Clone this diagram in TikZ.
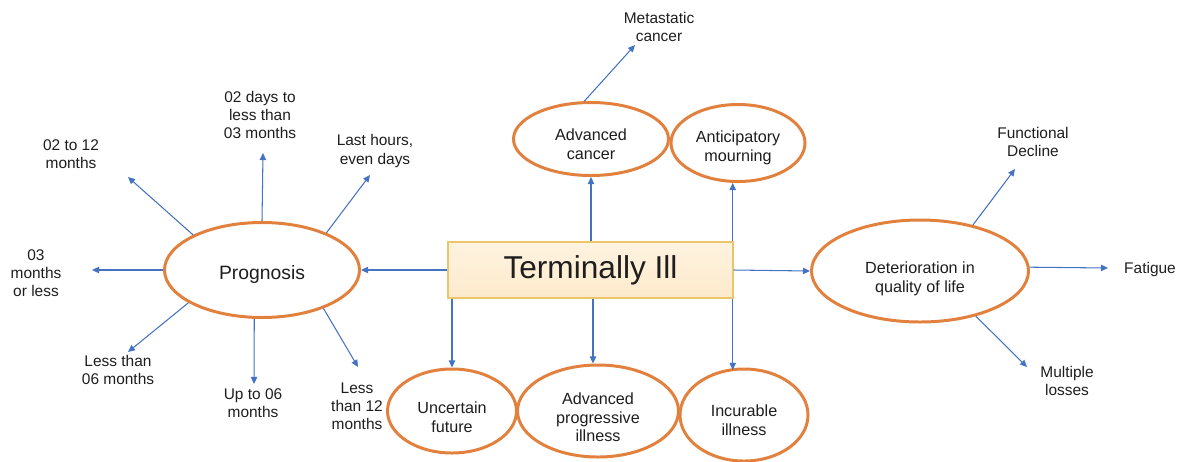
\documentclass[tikz,border=0pt]{standalone}
\usepackage{fontspec}
\setmainfont{Liberation Sans}
\usetikzlibrary{shapes.geometric,arrows.meta}
\definecolor{ored}{HTML}{E2813D}
\definecolor{ablue}{HTML}{4472C4}
\definecolor{boxfill}{HTML}{FDEACB}
\definecolor{boxtop}{HTML}{FEF3E0}
\definecolor{boxedge}{HTML}{EBC56A}
\definecolor{txt}{HTML}{1E1E1E}
\def\pxu{0.02cm}
\tikzset{
  oval/.style={ellipse,draw=ored,line width=1.7pt,fill=white,inner sep=0pt},
  ovtext/.style={align=center,text=txt,inner sep=0pt,font=\fontsize{9.2pt}{10.6pt}\selectfont},
  lbl/.style={align=center,text=txt,inner sep=0pt,font=\fontsize{8.8pt}{10.3pt}\selectfont},
  arr/.style={draw=ablue,line width=0.6pt,-{Triangle[length=4pt,width=3.6pt]}},
}
\begin{document}
\begin{tikzpicture}[x=0.02cm,y=-0.02cm]
\useasboundingbox (0,0) rectangle (1185,461);
% central box
\node[draw=boxedge,line width=0.8pt,top color=boxtop,bottom color=boxfill,
  minimum width={285*\pxu},minimum height={56*\pxu},inner sep=0pt,
  text=txt,font=\fontsize{18pt}{20pt}\selectfont] (box) at (590.5,270) {Terminally Ill};
% ellipses
\node[oval,minimum width={195*\pxu},minimum height={95*\pxu}] (prog) at (262,270) {};
\node[oval,minimum width={155*\pxu},minimum height={73*\pxu}] (adv) at (591,139) {};
\node[oval,minimum width={134*\pxu},minimum height={77*\pxu}] (antic) at (738,143) {};
\node[oval,minimum width={129*\pxu},minimum height={84*\pxu}] (unc) at (452,411) {};
\node[oval,minimum width={161*\pxu},minimum height={92*\pxu}] (advp) at (598,411) {};
\node[oval,minimum width={128*\pxu},minimum height={92*\pxu}] (inc) at (744,415) {};
\node[oval,minimum width={217*\pxu},minimum height={102*\pxu}] (det) at (920,271) {};
% ellipse texts
\node[ovtext,font=\fontsize{11pt}{13pt}\selectfont] (progt) at ([yshift=-0.08cm]prog.center) {Prognosis};
\node[ovtext] (advt) at ([yshift=-0.1cm]adv.center) {Advanced\\cancer};
\node[ovtext] (antict) at ([yshift=-0.1cm]antic.center) {Anticipatory\\mourning};
\node[ovtext] (unct) at ([yshift=-0.12cm]unc.center) {Uncertain\\future};
\node[ovtext] (advpt) at ([yshift=-0.13cm]advp.center) {Advanced\\progressive\\illness};
\node[ovtext] (inct) at ([yshift=-0.1cm]inc.center) {Incurable\\illness};
\node[ovtext] (dett) at ([yshift=-0.16cm]det.center) {Deterioration in\\quality of life};
% labels
\node[lbl] (meta) at (659,27) {Metastatic\\cancer};
\node[lbl] (p1) at (260,115) {02 days to\\less than\\03 months};
\node[lbl] (p2) at (375,151) {Last hours,\\even days};
\node[lbl] (p3) at (71,154) {02 to 12\\months};
\node[lbl] (p4) at (36,273) {03\\months\\or less};
\node[lbl] (p5) at (118,370) {Less than\\06 months};
\node[lbl] (p6) at (253,403) {Up to 06\\months};
\node[lbl] (p7) at (357,406) {Less\\than 12\\months};
\node[lbl] (d1) at (1033,142) {Functional\\Decline};
\node[lbl] (d2) at (1150,269) {Fatigue};
\node[lbl] (d3) at (1067,381) {Multiple\\losses};
% arrow end coordinates
\coordinate (em) at (635,45);
\coordinate (e1) at (263,153);
\coordinate (e2) at (370,175);
\coordinate (e3) at (128,177);
\coordinate (e4) at (92,270);
\coordinate (e5) at (128,352);
\coordinate (e6) at (254,384);
\coordinate (e7) at (358,367);
\coordinate (f1) at (1015,169);
\coordinate (f2) at (1108,268);
\coordinate (f3) at (1027,367);
% connectors from box
\draw[arr] (box.west) -- (prog.east);
\draw[arr] (box.east) -- (det.west);
\draw[arr] (box.north -| adv) -- (adv);
\draw[arr] ([xshift=-0.02cm]box.north east) -- ([xshift=-0.02cm]box.north east |- antic.south);
\draw[arr] (box.south -| unc) -- (unc);
\draw[arr] ([xshift=0.05cm]box.south) -- ([xshift=0.05cm]box.south |- advp.north);
\draw[arr] ([xshift=-0.02cm]box.south east) -- ([xshift=-0.02cm,yshift=-0.05cm]box.south east |- inc.north);
% prognosis spokes
\draw[arr] (prog.90) -- (e1);
\draw[arr] (prog.30) -- (e2);
\draw[arr] (prog.153) -- (e3);
\draw[arr] (prog.180) -- (e4);
\draw[arr] (prog.204) -- (e5);
\draw[arr] (prog.261) -- (e6);
\draw[arr] (prog.328) -- (e7);
% others
\draw[arr] (adv.100) -- (em);
\draw[arr] (det.41) -- (f1);
\draw[arr] (det.2) -- (f2);
\draw[arr] (det.321) -- (f3);
\end{tikzpicture}
\end{document}
